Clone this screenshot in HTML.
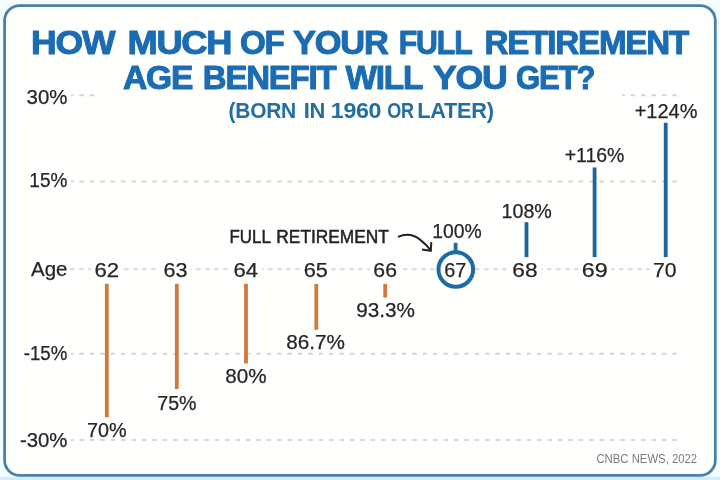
<!DOCTYPE html>
<html><head><meta charset="utf-8"><style>
html,body{margin:0;padding:0;width:720px;height:480px;overflow:hidden;background:#f2fbfe;}
svg{position:absolute;left:0;top:0;filter:blur(0.4px);}
text{font-family:"Liberation Sans",sans-serif;}
</style></head><body>
<svg width="720" height="480" viewBox="0 0 720 480">

<rect x="0" y="477" width="720" height="3" fill="#d3ebf7"/>
<rect x="4.6" y="5.6" width="710.7" height="469.7" rx="15" ry="15" fill="#fffffd" stroke="#4b80a8" stroke-width="2.8"/>
<line x1="71" y1="95.2" x2="677" y2="95.2" stroke="#d6d6d6" stroke-width="2" stroke-dasharray="4.6 5.8" stroke-dashoffset="2"/>
<line x1="71" y1="181.6" x2="677" y2="181.6" stroke="#d6d6d6" stroke-width="2" stroke-dasharray="4.6 5.8" stroke-dashoffset="2"/>
<line x1="71" y1="353.8" x2="677" y2="353.8" stroke="#d6d6d6" stroke-width="2" stroke-dasharray="4.6 5.8" stroke-dashoffset="2"/>
<line x1="71" y1="440" x2="677" y2="440" stroke="#d6d6d6" stroke-width="2" stroke-dasharray="4.6 5.8" stroke-dashoffset="2"/>
<line x1="70" y1="269.2" x2="677" y2="269.2" stroke="#dadada" stroke-width="2" stroke-dasharray="4.6 4.4"/>
<rect x="96" y="86" width="526" height="18" fill="#fffffd"/>
<rect x="91.3" y="259" width="31.0" height="20" fill="#fffffd"/>
<rect x="160.1" y="259" width="30.900000000000006" height="20" fill="#fffffd"/>
<rect x="230.3" y="259" width="31.599999999999966" height="20" fill="#fffffd"/>
<rect x="300.4" y="259" width="30.900000000000034" height="20" fill="#fffffd"/>
<rect x="370" y="259" width="30.5" height="20" fill="#fffffd"/>
<rect x="509" y="259" width="32" height="20" fill="#fffffd"/>
<rect x="578.5" y="259" width="32.5" height="20" fill="#fffffd"/>
<rect x="649.75" y="259" width="30.5" height="20" fill="#fffffd"/>
<rect x="66" y="259" width="4" height="20" fill="#fffffd"/>
<rect x="104.89999999999999" y="283.8" width="3.8" height="133.5" fill="#cf7a3c"/>
<rect x="174.9" y="283.8" width="3.8" height="105.2" fill="#cf7a3c"/>
<rect x="244.1" y="283.8" width="3.8" height="79.7" fill="#cf7a3c"/>
<rect x="314.40000000000003" y="283.9" width="3.8" height="45.9" fill="#cf7a3c"/>
<rect x="383.3" y="283.9" width="3.8" height="13.6" fill="#cf7a3c"/>
<rect x="524.6" y="222.2" width="3.8" height="34.9" fill="#1d659c"/>
<rect x="592.7" y="167.5" width="3.8" height="89.6" fill="#1d659c"/>
<rect x="663.8000000000001" y="122.8" width="3.8" height="134.3" fill="#1d659c"/>
<circle cx="455.8" cy="269.5" r="17.3" fill="#fffffd" stroke="#1d6aa5" stroke-width="4"/>
<rect x="453.7" y="242.8" width="3.8" height="9" fill="#1d6aa5"/>
<path d="M398 236.8 C406 233.4 414 234.8 420 239.6 C424 242.6 428 246.5 430.8 250.6" fill="none" stroke="#222" stroke-width="2"/>
<path d="M422 249.4 L430.8 250.8 L431.3 242.1" fill="none" stroke="#222" stroke-width="2"/>
<text x="31.095" y="54.2" font-size="33.0" font-weight="bold" fill="#1b6cb2" textLength="83.117" lengthAdjust="spacingAndGlyphs" stroke="#1b6cb2" stroke-width="1.0" stroke-linejoin="round" letter-spacing="-1.2">HOW</text>
<text x="127.563" y="54.2" font-size="33.0" font-weight="bold" fill="#1b6cb2" textLength="103.554" lengthAdjust="spacingAndGlyphs" stroke="#1b6cb2" stroke-width="1.0" stroke-linejoin="round" letter-spacing="-1.2">MUCH</text>
<text x="240.011" y="54.2" font-size="33.0" font-weight="bold" fill="#1b6cb2" textLength="43.621" lengthAdjust="spacingAndGlyphs" stroke="#1b6cb2" stroke-width="1.0" stroke-linejoin="round" letter-spacing="-1.2">OF</text>
<text x="293.105" y="54.2" font-size="33.0" font-weight="bold" fill="#1b6cb2" textLength="94.457" lengthAdjust="spacingAndGlyphs" stroke="#1b6cb2" stroke-width="1.0" stroke-linejoin="round" letter-spacing="-1.2">YOUR</text>
<text x="398.707" y="54.2" font-size="33.0" font-weight="bold" fill="#1b6cb2" textLength="72.905" lengthAdjust="spacingAndGlyphs" stroke="#1b6cb2" stroke-width="1.0" stroke-linejoin="round" letter-spacing="-1.2">FULL</text>
<text x="484.631" y="54.2" font-size="33.0" font-weight="bold" fill="#1b6cb2" textLength="203.450" lengthAdjust="spacingAndGlyphs" stroke="#1b6cb2" stroke-width="1.0" stroke-linejoin="round" letter-spacing="-1.2">RETIREMENT</text>
<text x="123.009" y="89.4" font-size="32.6" font-weight="bold" fill="#1b6cb2" textLength="69.037" lengthAdjust="spacingAndGlyphs" stroke="#1b6cb2" stroke-width="1.0" stroke-linejoin="round" letter-spacing="-1.2">AGE</text>
<text x="202.798" y="89.4" font-size="32.6" font-weight="bold" fill="#1b6cb2" textLength="132.581" lengthAdjust="spacingAndGlyphs" stroke="#1b6cb2" stroke-width="1.0" stroke-linejoin="round" letter-spacing="-1.2">BENEFIT</text>
<text x="345.569" y="89.4" font-size="32.6" font-weight="bold" fill="#1b6cb2" textLength="76.568" lengthAdjust="spacingAndGlyphs" stroke="#1b6cb2" stroke-width="1.0" stroke-linejoin="round" letter-spacing="-1.2">WILL</text>
<text x="433.081" y="89.4" font-size="32.6" font-weight="bold" fill="#1b6cb2" textLength="73.338" lengthAdjust="spacingAndGlyphs" stroke="#1b6cb2" stroke-width="1.0" stroke-linejoin="round" letter-spacing="-1.2">YOU</text>
<text x="516.106" y="89.4" font-size="32.6" font-weight="bold" fill="#1b6cb2" textLength="78.291" lengthAdjust="spacingAndGlyphs" stroke="#1b6cb2" stroke-width="1.0" stroke-linejoin="round" letter-spacing="-1.2">GET?</text>
<text x="228.622" y="117.5" font-size="21.8" font-weight="bold" fill="#216ea5" textLength="67.311" lengthAdjust="spacingAndGlyphs" letter-spacing="-0.3">(BORN</text>
<text x="303.739" y="117.5" font-size="21.8" font-weight="bold" fill="#216ea5" textLength="21.319" lengthAdjust="spacingAndGlyphs" letter-spacing="-0.3">IN</text>
<text x="330.852" y="117.5" font-size="21.8" font-weight="bold" fill="#216ea5" textLength="50.319" lengthAdjust="spacingAndGlyphs" letter-spacing="-0.3">1960</text>
<text x="387.307" y="117.5" font-size="21.8" font-weight="bold" fill="#216ea5" textLength="26.551" lengthAdjust="spacingAndGlyphs" letter-spacing="-0.3">OR</text>
<text x="417.297" y="117.5" font-size="21.8" font-weight="bold" fill="#216ea5" textLength="76.312" lengthAdjust="spacingAndGlyphs" letter-spacing="-0.3">LATER)</text>
<text x="26.573" y="104" font-size="20" font-weight="normal" fill="#262626" textLength="40.852" lengthAdjust="spacingAndGlyphs" stroke="#262626" stroke-width="0.25" stroke-linejoin="round">30%</text>
<text x="29.355" y="187.2" font-size="20" font-weight="normal" fill="#262626" textLength="38.021" lengthAdjust="spacingAndGlyphs" stroke="#262626" stroke-width="0.25" stroke-linejoin="round">15%</text>
<text x="31.009" y="275.75" font-size="20" font-weight="normal" fill="#262626" textLength="36.428" lengthAdjust="spacingAndGlyphs" stroke="#262626" stroke-width="0.25" stroke-linejoin="round">Age</text>
<text x="23.677" y="359.7" font-size="20" font-weight="normal" fill="#262626" textLength="43.668" lengthAdjust="spacingAndGlyphs" stroke="#262626" stroke-width="0.25" stroke-linejoin="round">-15%</text>
<text x="19.904" y="446.6" font-size="20" font-weight="normal" fill="#262626" textLength="47.498" lengthAdjust="spacingAndGlyphs" stroke="#262626" stroke-width="0.25" stroke-linejoin="round">-30%</text>
<text x="94.546" y="277.3" font-size="20" font-weight="normal" fill="#262626" textLength="24.570" lengthAdjust="spacingAndGlyphs" stroke="#262626" stroke-width="0.25" stroke-linejoin="round">62</text>
<text x="163.519" y="277.3" font-size="20" font-weight="normal" fill="#262626" textLength="23.989" lengthAdjust="spacingAndGlyphs" stroke="#262626" stroke-width="0.25" stroke-linejoin="round">63</text>
<text x="233.547" y="277.3" font-size="20" font-weight="normal" fill="#262626" textLength="24.523" lengthAdjust="spacingAndGlyphs" stroke="#262626" stroke-width="0.25" stroke-linejoin="round">64</text>
<text x="303.710" y="277.3" font-size="20" font-weight="normal" fill="#262626" textLength="24.210" lengthAdjust="spacingAndGlyphs" stroke="#262626" stroke-width="0.25" stroke-linejoin="round">65</text>
<text x="373.388" y="277.3" font-size="20" font-weight="normal" fill="#262626" textLength="23.604" lengthAdjust="spacingAndGlyphs" stroke="#262626" stroke-width="0.25" stroke-linejoin="round">66</text>
<text x="512.314" y="277.3" font-size="20" font-weight="normal" fill="#262626" textLength="25.243" lengthAdjust="spacingAndGlyphs" stroke="#262626" stroke-width="0.25" stroke-linejoin="round">68</text>
<text x="581.785" y="277.3" font-size="20" font-weight="normal" fill="#262626" textLength="25.891" lengthAdjust="spacingAndGlyphs" stroke="#262626" stroke-width="0.25" stroke-linejoin="round">69</text>
<text x="653.099" y="277.3" font-size="20" font-weight="normal" fill="#262626" textLength="23.512" lengthAdjust="spacingAndGlyphs" stroke="#262626" stroke-width="0.25" stroke-linejoin="round">70</text>
<text x="444.244" y="276.9" font-size="20" font-weight="normal" fill="#262626" textLength="22.164" lengthAdjust="spacingAndGlyphs" stroke="#262626" stroke-width="0.25" stroke-linejoin="round">67</text>
<text x="86.921" y="436.5" font-size="20" font-weight="normal" fill="#262626" textLength="39.581" lengthAdjust="spacingAndGlyphs" stroke="#262626" stroke-width="0.25" stroke-linejoin="round">70%</text>
<text x="157.280" y="409.8" font-size="20" font-weight="normal" fill="#262626" textLength="39.215" lengthAdjust="spacingAndGlyphs" stroke="#262626" stroke-width="0.25" stroke-linejoin="round">75%</text>
<text x="225.241" y="383" font-size="20" font-weight="normal" fill="#262626" textLength="41.291" lengthAdjust="spacingAndGlyphs" stroke="#262626" stroke-width="0.25" stroke-linejoin="round">80%</text>
<text x="286.239" y="348.5" font-size="20" font-weight="normal" fill="#262626" textLength="58.696" lengthAdjust="spacingAndGlyphs" stroke="#262626" stroke-width="0.25" stroke-linejoin="round">86.7%</text>
<text x="356.197" y="317.2" font-size="20" font-weight="normal" fill="#262626" textLength="58.739" lengthAdjust="spacingAndGlyphs" stroke="#262626" stroke-width="0.25" stroke-linejoin="round">93.3%</text>
<text x="432.128" y="237.6" font-size="20" font-weight="normal" fill="#262626" textLength="49.463" lengthAdjust="spacingAndGlyphs" stroke="#262626" stroke-width="0.25" stroke-linejoin="round">100%</text>
<text x="501.504" y="218" font-size="20" font-weight="normal" fill="#262626" textLength="50.348" lengthAdjust="spacingAndGlyphs" stroke="#262626" stroke-width="0.25" stroke-linejoin="round">108%</text>
<text x="564.715" y="162.1" font-size="20" font-weight="normal" fill="#262626" textLength="59.674" lengthAdjust="spacingAndGlyphs" stroke="#262626" stroke-width="0.25" stroke-linejoin="round">+116%</text>
<text x="634.691" y="118.1" font-size="20" font-weight="normal" fill="#262626" textLength="62.721" lengthAdjust="spacingAndGlyphs" stroke="#262626" stroke-width="0.25" stroke-linejoin="round">+124%</text>
<text x="229.563" y="242.7" font-size="19" font-weight="normal" fill="#222" textLength="41.252" lengthAdjust="spacingAndGlyphs" stroke="#222" stroke-width="0.5" stroke-linejoin="round">FULL</text>
<text x="276.329" y="242.7" font-size="19" font-weight="normal" fill="#222" textLength="112.604" lengthAdjust="spacingAndGlyphs" stroke="#222" stroke-width="0.5" stroke-linejoin="round">RETIREMENT</text>
<text x="596.434" y="462.8" font-size="12.5" font-weight="normal" fill="#7c7c7c" textLength="100.729" lengthAdjust="spacingAndGlyphs">CNBC NEWS, 2022</text>
</svg></body></html>
